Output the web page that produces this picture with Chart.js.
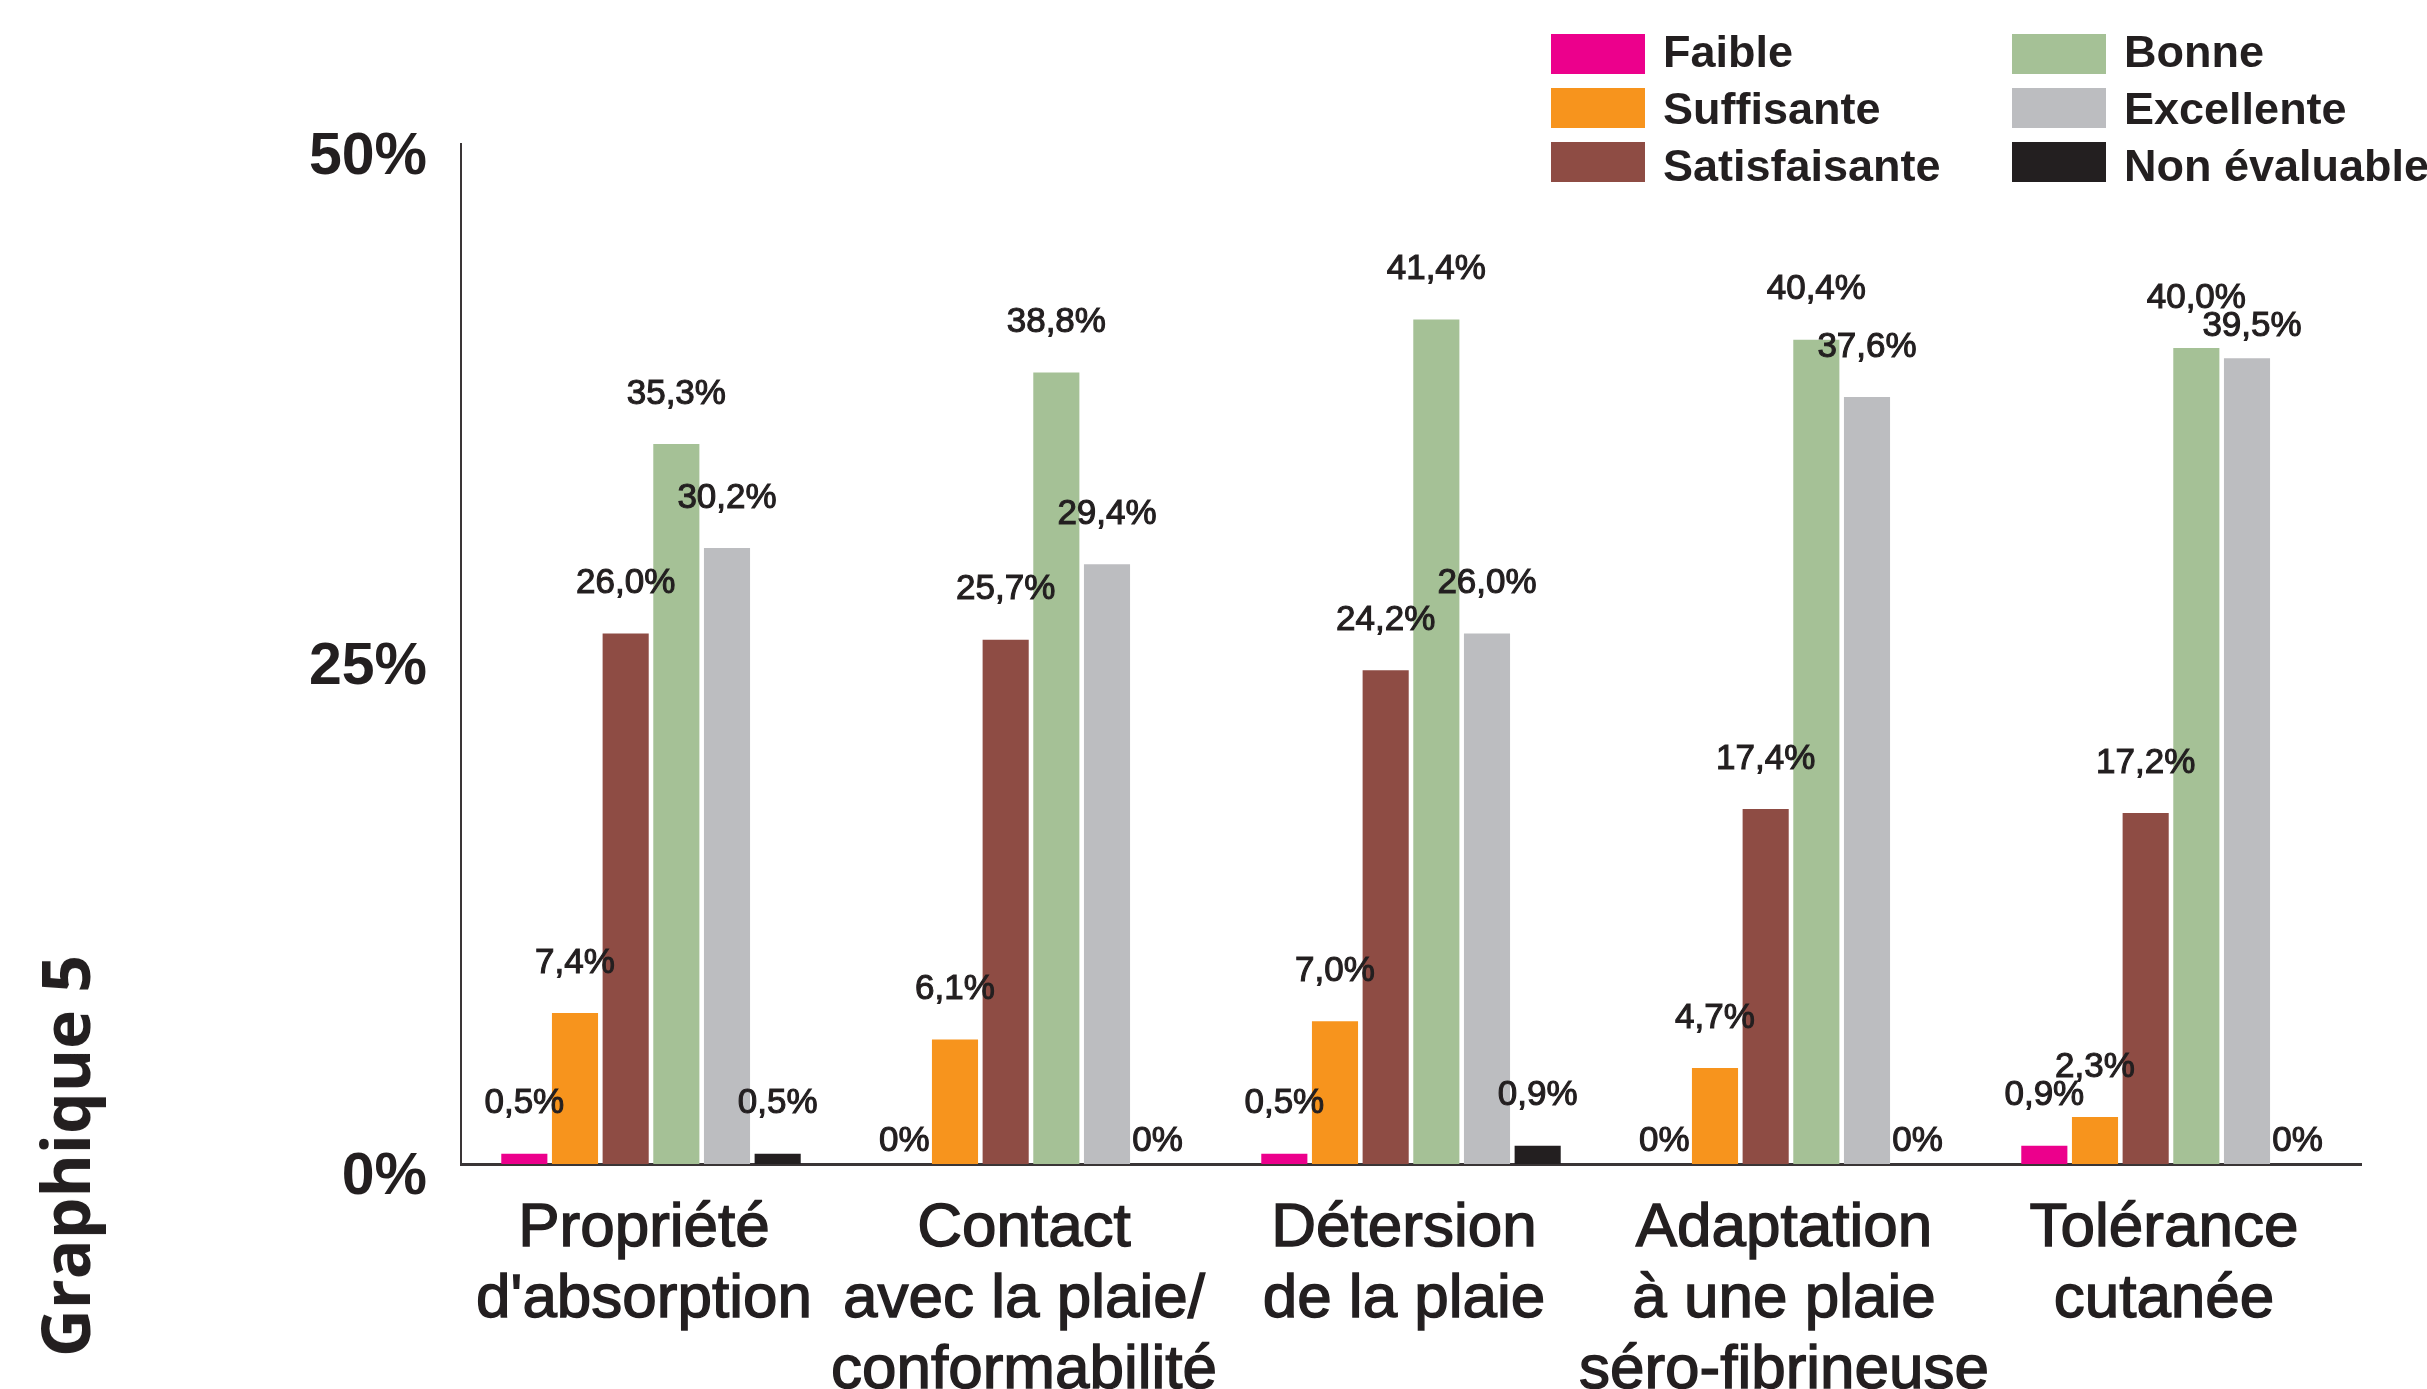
<!DOCTYPE html>
<html lang="fr">
<head>
<meta charset="utf-8">
<title>Graphique 5</title>
<script src="https://cdn.jsdelivr.net/npm/chart.js@4"></script>
<style>
  html, body { margin: 0; padding: 0; background: #fff; }
  #wrap { position: relative; width: 2427px; height: 1389px; }
  #side {
    position: absolute; left: 64px; top: 1156px;
    transform: translate(-50%, -50%) rotate(-90deg);
    font-family: "Open Sans", sans-serif; font-weight: 700; font-size: 66px;
    color: #231F20; white-space: nowrap;
  }
</style>
</head>
<body>
<div id="wrap">
  <canvas id="chart"></canvas>
  <div id="side">Graphique 5</div>
</div>
<script>
// categories (x axis)
const categories = [
    ['Propriété', "d'absorption"],
    ['Contact', 'avec la plaie/', 'conformabilité'],
    ['Détersion', 'de la plaie'],
    ['Adaptation', 'à une plaie', 'séro-fibrineuse'],
    ['Tolérance', 'cutanée']
];

// series values (%)
const faible        = [0.5, 0, 0.5, 0, 0.9];
const suffisante    = [7.4, 6.1, 7.0, 4.7, 2.3];
const satisfaisante = [26.0, 25.7, 24.2, 17.4, 17.2];
const bonne         = [35.3, 38.8, 41.4, 40.4, 40.0];
const excellente    = [30.2, 29.4, 26.0, 37.6, 39.5];
const nonEvaluable  = [0.5, 0, 0.9, 0, 0];

// y ticks
const yTicks = [0, 25, 50];

const textColor = '#231F20';

function formatPct(v) {
    if (v === 0) return '0%';
    return v.toFixed(1).replace('.', ',') + '%';
}

// value labels above each bar
const valueLabels = {
    id: 'valueLabels',
    afterDatasetsDraw(chart) {
        const ctx = chart.ctx;
        ctx.save();
        ctx.font = '35px "Liberation Sans", Arial, sans-serif';
        ctx.fillStyle = textColor;
        ctx.strokeStyle = textColor;
        ctx.lineWidth = 1.1;
        ctx.textAlign = 'center';
        ctx.textBaseline = 'middle';
        const n = chart.data.labels.length;
        for (let j = 0; j < n; j++) {
            let prev = null;
            chart.data.datasets.forEach((ds, i) => {
                const bar = chart.getDatasetMeta(i).data[j];
                const v = ds.data[j];
                const txt = formatPct(v);
                const w = ctx.measureText(txt).width;
                let x = bar.x;
                let y = bar.y - (v === 0 ? 23 : 50);
                // keep neighbouring labels from overlapping
                if (prev && x - w / 2 < prev.x + prev.w / 2 && Math.abs(y - prev.y) < 28) {
                    y = Math.max(y, prev.y + 28);
                    x += 5;
                }
                ctx.fillText(txt, x, y);
                ctx.strokeText(txt, x, y);
                prev = { x: x, y: y, w: w };
            });
        }
        ctx.restore();
    }
};

// legend in two columns, filled top to bottom
const gridLegend = {
    id: 'gridLegend',
    afterDraw(chart) {
        const ctx = chart.ctx;
        ctx.save();
        ctx.font = 'bold 45px "Liberation Sans", Arial, sans-serif';
        ctx.textBaseline = 'middle';
        ctx.textAlign = 'left';
        chart.data.datasets.forEach((ds, i) => {
            const col = Math.floor(i / 3);
            const row = i % 3;
            const x = 1551 + col * 461;
            const y = 34 + row * 54;
            ctx.fillStyle = ds.backgroundColor;
            ctx.fillRect(x, y, 94, 40);
            ctx.fillStyle = textColor;
            ctx.fillText(ds.label, x + 112, y + 21 + row * 3);
        });
        ctx.restore();
    }
};

const ctx = document.getElementById('chart').getContext('2d');
new Chart(ctx, {
    type: 'bar',
    data: {
        labels: categories,
        datasets: [
            { label: 'Faible', data: faible, backgroundColor: '#EC008C' },
            { label: 'Suffisante', data: suffisante, backgroundColor: '#F7941D' },
            { label: 'Satisfaisante', data: satisfaisante, backgroundColor: '#8E4C44' },
            { label: 'Bonne', data: bonne, backgroundColor: '#A5C196' },
            { label: 'Excellente', data: excellente, backgroundColor: '#BCBDC0' },
            { label: 'Non évaluable', data: nonEvaluable, backgroundColor: '#231F20' }
        ]
    },
    options: {
        responsive: true,
        maintainAspectRatio: false,
        devicePixelRatio: 1,
        animation: false,
        layout: { padding: { left: 0, right: 66, top: 144, bottom: 0 } },
        datasets: {
            bar: { categoryPercentage: 0.8, barPercentage: 0.91 }
        },
        scales: {
            x: {
                grid: { display: false, drawTicks: false },
                border: { display: true, color: '#3a3536', width: 3 },
                ticks: {
                    color: textColor,
                    textStrokeColor: textColor,
                    textStrokeWidth: 1.4,
                    padding: 29,
                    labelOffset: -7,
                    maxRotation: 0,
                    autoSkip: false,
                    font: { family: '"Liberation Sans", Arial, sans-serif', size: 62, lineHeight: 1.15 }
                },
                afterFit(scale) { scale.height = 225; }
            },
            y: {
                min: 0,
                max: 50,
                afterBuildTicks(scale) { scale.ticks = yTicks.map(v => ({ value: v })); },
                grid: { display: false, drawTicks: false },
                border: { display: true, color: '#3a3536', width: 2 },
                ticks: {
                    color: textColor,
                    padding: 34,
                    labelOffset: 14,
                    callback: v => v + '%',
                    font: { family: '"Liberation Sans", Arial, sans-serif', size: 59, weight: 'bold' }
                },
                afterFit(scale) { scale.width = 461; }
            }
        },
        plugins: {
            legend: { display: false },
            tooltip: { enabled: false }
        }
    },
    plugins: [valueLabels, gridLegend]
});
</script>
</body>
</html>
